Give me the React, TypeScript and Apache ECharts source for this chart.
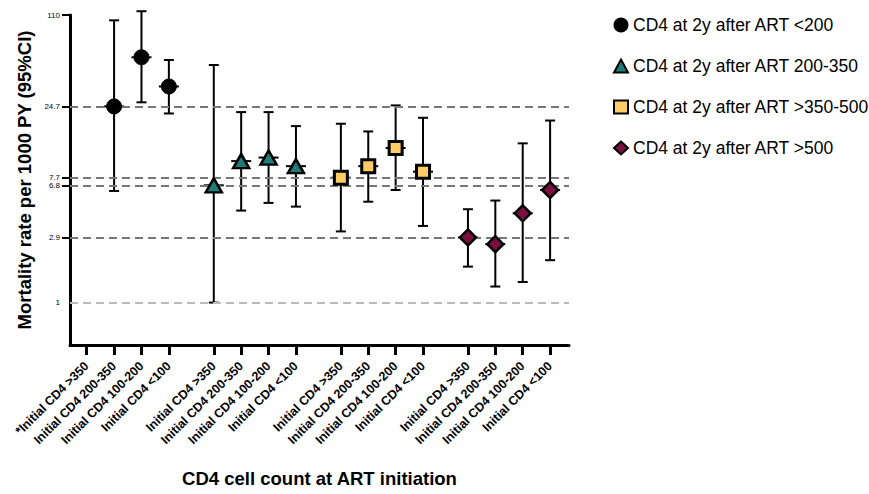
import React, { useEffect, useRef } from "react";
import * as echarts from "echarts";

const CATEGORIES = ["Initial CD4 >350", "Initial CD4 200-350", "Initial CD4 100-200", "Initial CD4 <100"];
const SERIES_NAMES = [
  "CD4 at 2y after ART <200",
  "CD4 at 2y after ART 200-350",
  "CD4 at 2y after ART >350-500",
  "CD4 at 2y after ART >500",
];
// point estimates (null = not available)
const MEAN_LT200 = [null, 24.7, 55.1, 34.2];
const LOW_LT200 = [null, 6.2, 26.4, 22.0];
const HIGH_LT200 = [null, 100.8, 117, 52.7];

const MEAN_200_350 = [6.8, 10.1, 10.7, 9.3];
const LOW_200_350 = [1.0, 4.5, 5.1, 4.8];
const HIGH_200_350 = [48.6, 22.5, 22.5, 17.9];

const MEAN_350_500 = [7.7, 9.3, 12.5, 8.5];
const LOW_350_500 = [3.2, 5.2, 6.3, 3.5];
const HIGH_350_500 = [18.6, 16.4, 25.1, 20.5];

const MEAN_GT500 = [2.9, 2.6, 4.3, 6.3];
const LOW_GT500 = [1.8, 1.3, 1.4, 2.0];
const HIGH_GT500 = [4.6, 5.3, 13.5, 19.6];

const REF_LINES_DARK = [24.7, 7.7, 6.8, 2.9];
const REF_LINES_LIGHT = [1];
const Y_TICK_LABELS = [1, 2.9, 6.8, 7.7, 24.7, 110];
const Y_TICK_MARKS = [2.9, 6.8, 7.7, 24.7, 110];

const FONT = "'Liberation Sans', Arial, Helvetica, sans-serif";
const GROUP_STRIDE = 4.64;

const MEANS = [MEAN_LT200, MEAN_200_350, MEAN_350_500, MEAN_GT500];
const LOWS = [LOW_LT200, LOW_200_350, LOW_350_500, LOW_GT500];
const HIGHS = [HIGH_LT200, HIGH_200_350, HIGH_350_500, HIGH_GT500];

const STYLES = [
  { symbol: "circle", size: 15, color: "#000000", border: 1 },
  { symbol: "triangle", size: [16, 14], color: "#1E7D79", border: 2.5 },
  { symbol: "rect", size: 13, color: "#FFCC66", border: 3 },
  { symbol: "diamond", size: 16, color: "#7A0F40", border: 2.5 },
];

const POSITIONS: number[] = [];
const X_LABELS: string[] = [];
for (let g = 0; g < 4; g++) {
  for (let i = 0; i < CATEGORIES.length; i++) {
    POSITIONS.push(g * GROUP_STRIDE + i);
    X_LABELS.push((g === 0 && i === 0 ? "*" : "") + CATEGORIES[i]);
  }
}

export default function App() {
  const ref = useRef<HTMLDivElement>(null);
  useEffect(() => {
    document.body.style.margin = "0";
    const chart = echarts.init(ref.current!, null, { renderer: "svg" });

    const scatterSeries = MEANS.map((arr, g) => ({
      name: SERIES_NAMES[g],
      type: "scatter",
      symbol: STYLES[g].symbol,
      symbolSize: STYLES[g].size,
      z: 5,
      itemStyle: { color: STYLES[g].color, borderColor: "#000", borderWidth: STYLES[g].border, opacity: 1 },
      data: arr
        .map((v, i) => (v == null ? null : [g * GROUP_STRIDE + i, v]))
        .filter((d) => d !== null),
    }));

    const errData: number[][] = [];
    MEANS.forEach((arr, g) => {
      arr.forEach((v, i) => {
        if (v == null) return;
        errData.push([g * GROUP_STRIDE + i, LOWS[g][i] as number, HIGHS[g][i] as number, v]);
      });
    });

    const errorSeries = {
      type: "custom",
      name: "ci",
      z: 3,
      clip: false,
      encode: { x: 0, y: [1, 2] },
      data: errData,
      renderItem: (params: any, api: any) => {
        const x = api.value(0);
        const lo = api.coord([x, api.value(1)]);
        const hi = api.coord([x, api.value(2)]);
        const mid = api.coord([x, api.value(3)]);
        const style = { stroke: "#000", lineWidth: 2 };
        return {
          type: "group",
          children: [
            { type: "line", shape: { x1: lo[0], y1: lo[1], x2: hi[0], y2: hi[1] }, style },
            { type: "line", shape: { x1: lo[0] - 5, y1: lo[1], x2: lo[0] + 5, y2: lo[1] }, style },
            { type: "line", shape: { x1: hi[0] - 5, y1: hi[1], x2: hi[0] + 5, y2: hi[1] }, style },
            { type: "line", shape: { x1: mid[0] - 10, y1: mid[1], x2: mid[0] + 10, y2: mid[1] }, style },
          ],
        };
      },
      markLine: {
        silent: true,
        symbol: "none",
        label: { show: false },
        animation: false,
        data: [
          ...REF_LINES_DARK.map((v) => ({ yAxis: v, lineStyle: { color: "#777", width: 2, type: [8, 5] } })),
          ...REF_LINES_LIGHT.map((v) => ({ yAxis: v, lineStyle: { color: "#bbb", width: 2, type: [8, 5] } })),
        ],
      },
    };

    chart.setOption({
      animation: false,
      textStyle: { fontFamily: FONT },
      grid: { left: 70, top: 15, width: 499, height: 330, containLabel: false },
      legend: {
        orient: "vertical",
        left: 608,
        top: 11,
        itemWidth: 14,
        itemHeight: 13,
        itemGap: 23,
        itemTextGap: 16,
        data: SERIES_NAMES,
        textStyle: { fontSize: 17.5, color: "#000", fontFamily: FONT },
      },
      xAxis: {
        type: "value",
        min: -0.61,
        max: 17.61,
        name: "CD4 cell count at ART initiation",
        nameLocation: "middle",
        nameGap: 124,
        nameTextStyle: { fontSize: 18.5, fontWeight: "bold", color: "#000", fontFamily: FONT },
        splitLine: { show: false },
        axisLine: { show: true, onZero: false, lineStyle: { color: "#000", width: 3 } },
        axisTick: { show: true, customValues: POSITIONS, length: 10, lineStyle: { color: "#000", width: 3 } },
        axisLabel: {
          customValues: POSITIONS,
          rotate: 45,
          margin: 19,
          fontSize: 12.5,
          fontWeight: "bold",
          color: "#000",
          fontFamily: FONT,
          formatter: (v: number) => {
            const idx = POSITIONS.findIndex((p) => Math.abs(p - v) < 0.01);
            return idx >= 0 ? X_LABELS[idx] : "";
          },
        },
      },
      yAxis: {
        type: "log",
        logBase: 10,
        min: 0.5,
        max: 110,
        name: "Mortality rate per 1000 PY (95%CI)",
        nameLocation: "middle",
        nameGap: 33,
        nameTextStyle: { fontSize: 18.5, fontWeight: "bold", color: "#000", fontFamily: FONT },
        splitLine: { show: false },
        axisLine: { show: true, onZero: false, lineStyle: { color: "#000", width: 3 } },
        axisTick: { show: true, customValues: Y_TICK_MARKS, length: 8, lineStyle: { color: "#000", width: 2 } },
        axisLabel: {
          customValues: Y_TICK_LABELS,
          fontSize: 8,
          margin: 10,
          color: "#000",
          fontFamily: FONT,
          formatter: (v: number) => String(Math.round(v * 10) / 10),
        },
      },
      series: [errorSeries, ...scatterSeries],
    });
    return () => chart.dispose();
  }, []);
  return <div ref={ref} style={{ width: 869, height: 494 }} />;
}
